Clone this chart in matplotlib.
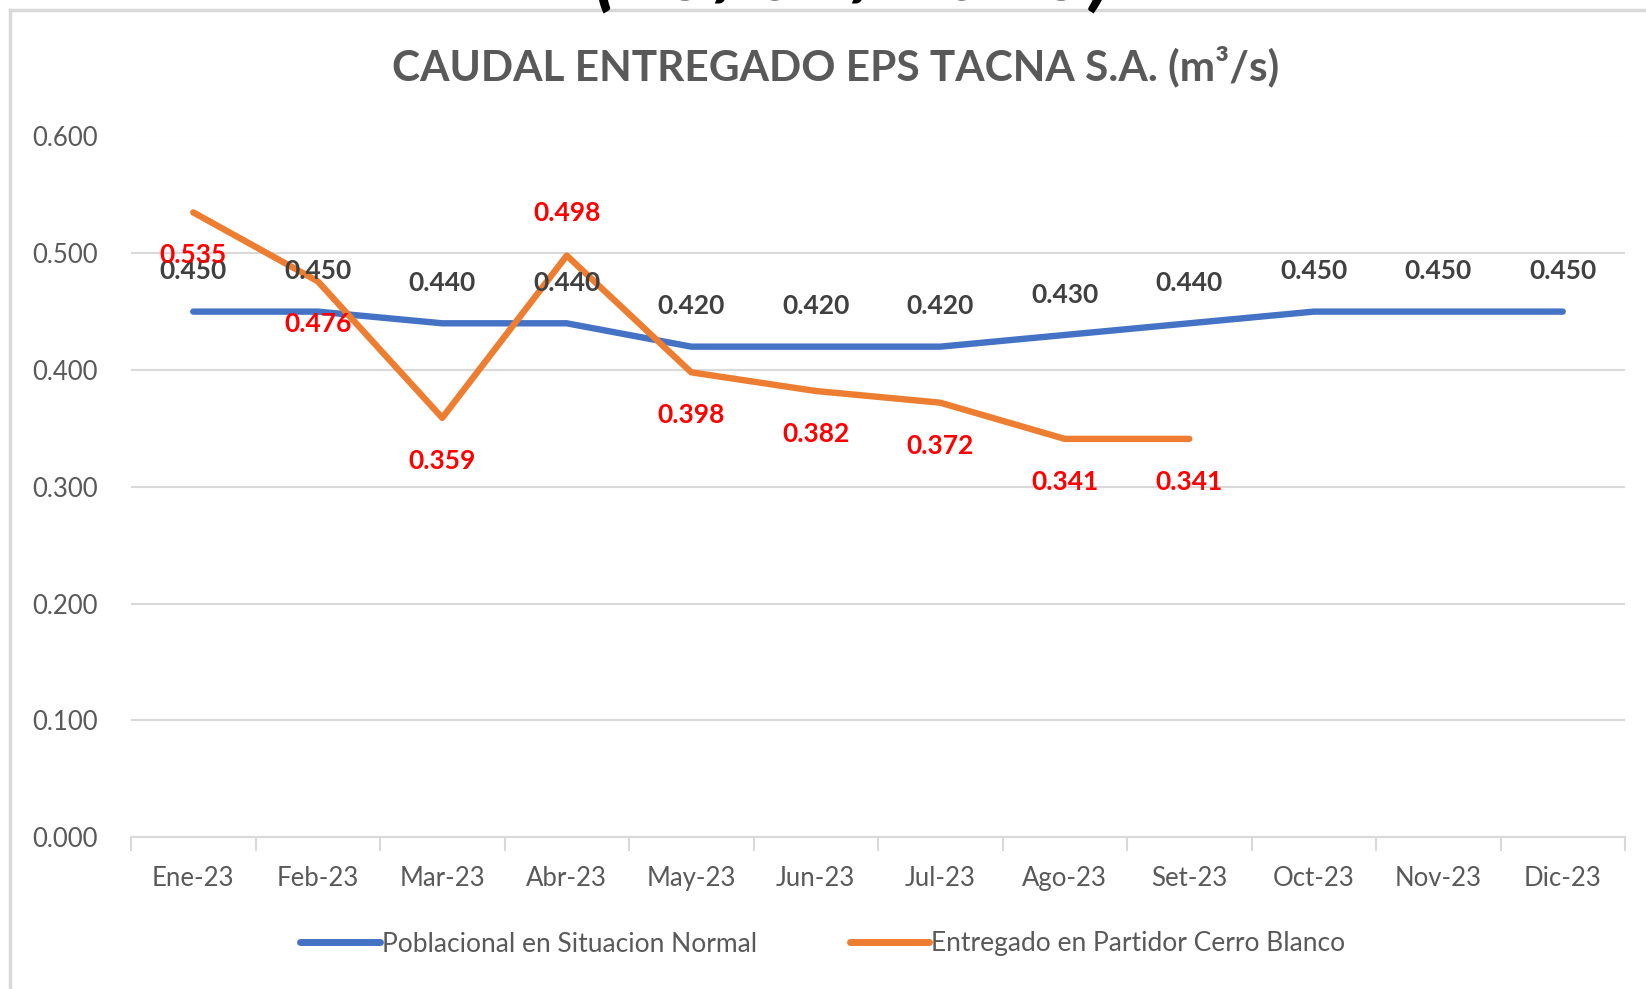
import numpy as np
import matplotlib as mpl
import matplotlib.pyplot as plt
from matplotlib.lines import Line2D

mpl.use('Agg')
plt.rcParams['font.family'] = ['Lato', 'DejaVu Sans']

# Data
meses = ['Ene-23', 'Feb-23', 'Mar-23', 'Abr-23', 'May-23', 'Jun-23',
         'Jul-23', 'Ago-23', 'Set-23', 'Oct-23', 'Nov-23', 'Dic-23']
poblacional = [0.450, 0.450, 0.440, 0.440, 0.420, 0.420,
               0.420, 0.430, 0.440, 0.450, 0.450, 0.450]
entregado = [0.535, 0.476, 0.359, 0.498, 0.398, 0.382, 0.372, 0.341, 0.341]
# label position for orange series: 1 above, -1 below
pos_entregado = [-1, -1, -1, 1, -1, -1, -1, -1, -1]

azul = '#4472C4'
naranja = '#ED7D31'
gris = '#595959'

fig = plt.figure(figsize=(16.46, 9.89), dpi=100)
ax = fig.add_axes([131 / 1646, 1 - 837 / 989, 1494 / 1646, 700.5 / 989])

x = np.arange(len(meses))
ax.plot(x, poblacional, color=azul, lw=4.6, solid_capstyle='round', zorder=3)
ax.plot(x[:len(entregado)], entregado, color=naranja, lw=4.6,
        solid_capstyle='round', zorder=4)

for xi, v in zip(x, poblacional):
    ax.annotate(f'{v:.3f}', (xi, v), xytext=(0, 29), textcoords='offset points',
                ha='center', va='center', fontsize=19, fontweight='bold',
                color='#404040', zorder=5)
for xi, v, p in zip(x, entregado, pos_entregado):
    ax.annotate(f'{v:.3f}', (xi, v), xytext=(0, 31 * p), textcoords='offset points',
                ha='center', va='center', fontsize=19, fontweight='bold',
                color='red', zorder=6)

ax.set_xlim(-0.5, 11.5)
ax.set_ylim(0, 0.6)
ax.set_yticks(np.arange(0, 0.61, 0.1))
ax.set_yticklabels([f'{t:.3f}' for t in np.arange(0, 0.61, 0.1)])
ax.yaxis.grid(True, color='#D9D9D9', lw=1.5)
ax.set_axisbelow(True)
ax.tick_params(axis='y', length=0, labelsize=18.5, labelcolor=gris, pad=24)

ax.set_xticks(np.arange(-0.5, 12, 1))
ax.set_xticklabels([])
ax.set_xticks(x, minor=True)
ax.set_xticklabels(meses, minor=True)
ax.tick_params(axis='x', which='major', length=10, width=1.5, color='#D9D9D9')
ax.tick_params(axis='x', which='minor', length=0, labelsize=18.5,
               labelcolor=gris, pad=21)

for s in ['top', 'right', 'left']:
    ax.spines[s].set_visible(False)
ax.spines['bottom'].set_color('#D9D9D9')
ax.spines['bottom'].set_linewidth(1.5)

# Title and cut-off date on top
fig.text(0.5075, 1 - 66 / 989, 'CAUDAL ENTREGADO EPS TACNA S.A. (m³/s)',
         ha='center', va='center', fontsize=30.5, fontweight='bold', color=gris)
fig.text(0.518, 1 - 1 / 989, '(25/09/2023)', ha='center', va='baseline',
         fontsize=62, fontweight='bold', style='italic', color='black')

# Outer chart frame
fig.add_artist(Line2D([10 / 1646, 1], [1 - 10 / 989, 1 - 10 / 989],
                      transform=fig.transFigure, color='#D9D9D9', lw=2.5))
fig.add_artist(Line2D([10 / 1646, 10 / 1646], [0, 1 - 10 / 989],
                      transform=fig.transFigure, color='#D9D9D9', lw=2.5))

handles = [Line2D([], [], color=azul, lw=5, solid_capstyle='round'),
           Line2D([], [], color=naranja, lw=5, solid_capstyle='round')]
fig.legend(handles, ['Poblacional en Situacion Normal', 'Entregado en Partidor Cerro Blanco'],
           loc='center', bbox_to_anchor=(0.5, 1 - 944 / 989), ncol=2, frameon=False,
           fontsize=19, handlelength=3.0, handletextpad=0.1, columnspacing=3.5,
           labelcolor=gris)

fig.savefig('out.png', dpi=100)
